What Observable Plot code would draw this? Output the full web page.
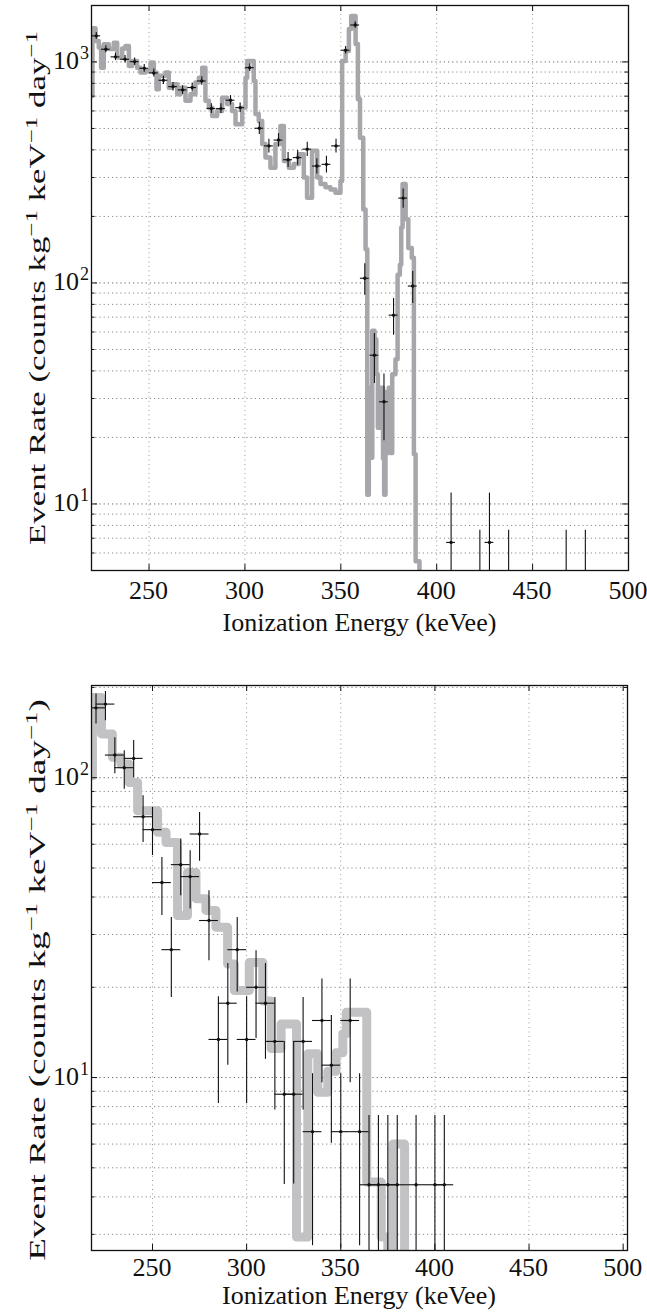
<!DOCTYPE html>
<html><head><meta charset="utf-8">
<script src="https://cdn.jsdelivr.net/npm/d3@7"></script>
<script src="https://cdn.jsdelivr.net/npm/@observablehq/plot@0.6"></script>
<style>
html,body{margin:0;padding:0;background:#fff}
#wrap{position:relative;width:647px;height:1313px;overflow:hidden;background:#fff}
#wrap svg{display:block}
.lbl,.ylab{position:absolute;white-space:nowrap;font-family:"Liberation Serif";line-height:1;color:#111}
.ylab{font-size:24px;transform-origin:50% 50%}
.ylab sup{font-size:0.72em;vertical-align:0.5em;line-height:0}
</style></head><body><div id="wrap"></div>
<script>
// ---------- TOP PANEL DATA ----------
const topXDomain = [220, 500];
const topYDomain = [5, 1800];
const topXTicks = [250, 300, 350, 400, 450, 500];
const topXTickLabels = ["250", "300", "350", "400", "450", "500"];
const topYTicks = [10, 100, 1000];
const topYExp = ["1", "2", "3"];
const topYMinor = [5,6,7,8,9,20,30,40,50,60,70,80,90,200,300,400,500,600,700,800,900];
// fine-binned model histogram (bin start, rate)
const topLineX = [220.3,220.5,222.1,223.8,225.0,226.4,229.0,231.6,233.4,236.0,237.7,239.5,241.2,243.8,245.5,248.2,250.8,252.5,253.9,255.1,258.6,260.3,262.1,264.7,266.4,269.0,271.6,274.2,276.0,277.7,279.4,281.2,282.9,285.5,288.1,290.7,293.3,295.1,298.6,300.3,301.2,304.6,305.5,307.2,309.0,310.7,313.3,315.9,318.5,320.3,322.9,325.5,328.1,330.7,332.4,335.0,337.7,339.4,342.0,344.6,347.2,349.8,350.7,352.5,354.2,355.4,357.7,358.9,360.0,361.7,362.9,363.8,364.6,365.5,366.4,367.6,368.5,369.3,370.7,372.0,372.6,373.3,374.2,375.0,375.9,376.8,378.5,379.6,380.8,381.5,382.2,383.8,385.2,387.0,388.1,389.0,391.0,392.0];
const topLineY = [701,1420,1245,1161,942,1202,1145,1220,1046,1150,1180,959,1010,942,895,910,993,895,752,865,895,765,793,714,765,667,714,806,849,942,667,621,570,600,689,645,600,523,621,849,1010,820,582,541,425,369,332,425,513,356,332,345,382,300,243,396,300,280,271,265,256,289,1010,1120,1410,1614,1206,678,454,215,142,11,33.6,16.2,60.7,55.6,38.6,22.1,33.6,16,11,32,17,33.6,17,38.6,45.2,109,121,178,280,194,144,130,16.8,5.5,1,1];
// measured points
const topPtX = [222.5,227.5,232.5,237.5,242.5,247.5,252.5,257.5,262.5,267.5,272.5,277.5,282.5,287.5,292.5,297.5,302.5,307.5,312.5,317.5,322.5,327.5,332.5,337.5,342.5,347.5,352.5,357.5,362.5,367.5,372.5,377.5,382.5,387.5,407.5,422.5,427.5,437.5,467.5,477.5];
const topPtY = [1312,1141,1054,1028,1003,936,892,826,773,747,766,820,616,615,671,621,942,501,417,443,361,369,403,338,344,417,1130,1469,105,47.1,29.0,71.5,242,96.8,6.7,3.4,6.7,3.4,3.4,3.4];
const topPtErr = [45,42,40,40,39,38,37,36,35,34,35,36,31,31,33,31,38,32,30,31,28,28,30,27,30,30,45,50,17,12,9.7,13.5,24,16,4.5,4.2,4.5,4.2,4.2,4.2];
const topBinHalf = 2.3;

// ---------- BOTTOM PANEL DATA ----------
const botXDomain = [217.6, 502.3];
const botYDomain = [2.65, 203];
const botXTicks = [250, 300, 350, 400, 450, 500];
const botXTickLabels = ["250", "300", "350", "400", "450", "500"];
const botYTicks = [10, 100];
const botYExp = ["1", "2"];
const botYMinor = [3,4,5,6,7,8,9,20,30,40,50,60,70,80,90,200];
const botLineX = [217.9,218.1,222.9,228.7,233.2,237.6,242.1,252.7,257.2,263.3,268.6,273.1,278.4,283.7,289.9,293.5,301.4,308.6,313.0,318.3,326.5,332.5,337.8,343.1,347.5,351.1,352.9,363.8,371.5,375.0,377.7,383.9,385.0];
const botLineY = [101.5,185,140,117,111,96.4,77.6,65.8,60.8,34.7,48.3,39.5,36.1,31.7,23.9,19.5,24.2,18,12.5,15.1,2.94,12.0,8.93,10.5,12.1,14,16.5,4.48,2.94,1,6.0,1,1];
const botPtX = [220,225,230,235,240,245,250,255,260,265,270,275,280,285,290,295,300,305,310,315,320,325,330,335,340,345,350,355,360,365,370,375,380,390,400,405];
const botPtY = [171,176,119,108,116,74.1,67.1,44.7,26.7,51.3,46.8,64.9,33.4,13.4,17.7,26.7,13.4,20,17.7,13.2,8.8,8.8,13.2,6.6,15.5,11.0,6.6,15.5,6.6,4.39,4.39,4.39,4.39,4.39,4.39,4.39];
const botPtLo = [151,155,103,91.6,100,60.8,55,34.7,18.5,40.4,36.5,52.6,24.5,8.2,11,19.3,8.2,13.5,11.5,7.8,4.4,4.42,7.8,2.75,9.6,6.04,2.7,9.6,2.75,1.3,1.3,1.3,1.3,1.3,1.3,1.3];
const botPtHi = [190,194,136,123,133,87,79.6,54.2,34.2,62.5,57.1,76.5,42,18.6,24,34.2,18.6,26.5,24,18.5,13.2,13.2,18.5,10.3,21.3,16.1,10.3,21.3,10.3,7.47,7.47,7.47,7.47,7.47,7.47,7.47];
const botBinHalf = 5;

const xTitle = "Ionization Energy (keVee)";
const yTitleTop = "Event Rate (counts kg<sup>\u22121</sup> keV<sup>\u22121</sup> day<sup>\u22121</sup>";
const yTitleBot = "Event Rate (counts kg<sup>\u22121</sup> keV<sup>\u22121</sup> day<sup>\u22121</sup>)";
const INK = "#111";
const wrap = document.getElementById("wrap");

function label(text, x, y, size, anchor) {
  const d = document.createElement("div");
  d.className = "lbl";
  d.style.fontSize = size + "px";
  d.textContent = text;
  wrap.appendChild(d);
  const w = d.offsetWidth, h = d.offsetHeight;
  const left = anchor === "end" ? x - w : anchor === "start" ? x : x - w / 2;
  d.style.left = left + "px";
  d.style.top = (y - h / 2) + "px";
}

function panel(o) {
  const W = 647;
  const innerW = W - o.mL - o.mR;
  const innerH = o.height - o.mT - o.mB;
  const line = o.lineX.map((x, i) => ({x, y: o.lineY[i]}));
  const pts = o.ptX.map((x, i) => ({x, y: o.ptY[i], lo: Math.max(o.ptLo[i], 0.01), hi: o.ptHi[i]}));
  const svg = Plot.plot({
    width: W, height: o.height,
    marginLeft: o.mL, marginRight: o.mR, marginTop: o.mT, marginBottom: o.mB,
    style: {background: "#fff", overflow: "visible"},
    x: {domain: o.xDomain, axis: null},
    y: {type: "log", domain: o.yDomain, axis: null},
    marks: [
      Plot.ruleX(o.xTicks.filter(d => d < o.xDomain[1] - 1), {x: d => d, stroke: "#999", strokeDasharray: "1,3.5"}),
      Plot.ruleY(o.yMinor, {y: d => d, stroke: "#888", strokeDasharray: "1.2,3"}),
      Plot.ruleY(o.yTicks, {y: d => d, stroke: "#666", strokeDasharray: "1.2,3"}),
      Plot.line(line, {x: "x", y: "y", curve: "step-after", stroke: o.lineColor, strokeWidth: o.lineWidth, strokeLinejoin: "round", strokeLinecap: "round", clip: true}),
      Plot.ruleX(pts, {x: "x", y1: "lo", y2: "hi", stroke: INK, strokeWidth: 1.1, clip: true}),
      Plot.ruleY(pts, {y: "y", x1: d => d.x - o.binHalf, x2: d => d.x + o.binHalf, stroke: INK, strokeWidth: 1.1, clip: true}),
      Plot.dot(pts, {x: "x", y: "y", r: 1.7, fill: INK, clip: true}),
      Plot.frame({stroke: INK, strokeWidth: 1.3}),
      // inward ticks on all four sides
      Plot.tickY(o.yTicks, {y: d => d, insetRight: innerW - 6, stroke: INK}),
      Plot.tickY(o.yTicks, {y: d => d, insetLeft: innerW - 6, stroke: INK}),
      Plot.tickY(o.yMinor, {y: d => d, insetRight: innerW - 3.5, stroke: INK}),
      Plot.tickY(o.yMinor, {y: d => d, insetLeft: innerW - 3.5, stroke: INK}),
      Plot.tickX(o.xTicks, {x: d => d, insetTop: innerH - 6, stroke: INK}),
      Plot.tickX(o.xTicks, {x: d => d, insetBottom: innerH - 6, stroke: INK})
    ]
  });
  svg.style.position = "absolute";
  svg.style.left = "0px";
  svg.style.top = o.top + "px";
  wrap.appendChild(svg);
  // text placed with the plot's own scales
  const xs = svg.scale("x"), ys = svg.scale("y");
  const axisY = o.top + o.height - o.mB;
  o.xTicks.forEach((t, i) => label(o.xTickLabels[i], xs.apply(t), axisY + o.tickDy, 26, "middle"));
  o.yTicks.forEach((t, i) => {
    const py = o.top + ys.apply(t);
    label("10", o.mL - 12, py, 26, "end");
    label(o.yExp[i], o.mL - 11, py - 8, 18, "start");
  });
  label(xTitle, o.mL + innerW / 2, axisY + o.titleDy, 26, "middle");
  // rotated y title (stretched along its length like the reference)
  const d = document.createElement("div");
  d.className = "ylab";
  d.innerHTML = o.yTitle;
  wrap.appendChild(d);
  const w = d.offsetWidth, h = d.offsetHeight;
  const cy = o.top + o.mT + innerH / 2 + o.yTitleShift;
  d.style.left = (37 - w / 2) + "px";
  d.style.top = (cy - h / 2) + "px";
  d.style.transform = "rotate(-90deg) scale(" + o.yStretch + ",1)";
}

panel({
  top: 0, height: 640, mL: 91, mR: 19, mT: 5, mB: 70,
  xDomain: topXDomain, yDomain: topYDomain, xTicks: topXTicks, xTickLabels: topXTickLabels,
  yTicks: topYTicks, yExp: topYExp, yMinor: topYMinor,
  lineX: topLineX, lineY: topLineY, lineColor: "#a7a7ab", lineWidth: 4.5,
  ptX: topPtX, ptY: topPtY,
  ptLo: topPtY.map((v, i) => v - topPtErr[i]), ptHi: topPtY.map((v, i) => v + topPtErr[i]),
  binHalf: topBinHalf, tickDy: 21, titleDy: 53,
  yTitle: yTitleTop, yStretch: 1.45, yTitleShift: 0
});
panel({
  top: 640, height: 673, mL: 91, mR: 20, mT: 45, mB: 63,
  xDomain: botXDomain, yDomain: botYDomain, xTicks: botXTicks, xTickLabels: botXTickLabels,
  yTicks: botYTicks, yExp: botYExp, yMinor: botYMinor,
  lineX: botLineX, lineY: botLineY, lineColor: "#c2c2c5", lineWidth: 9,
  ptX: botPtX, ptY: botPtY, ptLo: botPtLo, ptHi: botPtHi,
  binHalf: botBinHalf, tickDy: 18, titleDy: 46,
  yTitle: yTitleBot, yStretch: 1.55, yTitleShift: 12
});
</script></body></html>
